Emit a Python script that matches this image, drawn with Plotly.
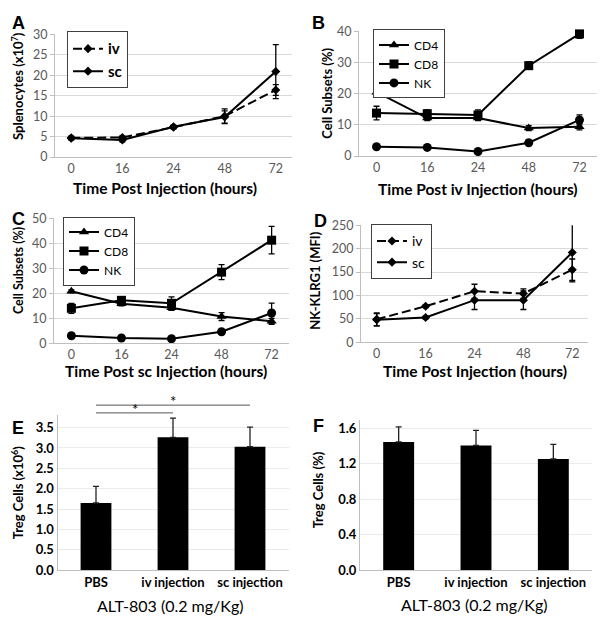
import plotly.graph_objects as go

W, H = 604, 627

# ---------------- data ----------------
time_labels = ["0", "16", "24", "48", "72"]

# A: splenocytes (x10^7)
spl_iv = [4.7, 4.8, 7.3, 10.0, 16.4]
spl_iv_err = [0.4, 0.4, 0.4, 1.8, 1.3]
spl_sc = [4.6, 4.2, 7.4, 9.8, 20.9]
spl_sc_err = [0.4, 0.5, 0.4, 1.5, 6.6]

# B: cell subsets after iv injection (%)
b_cd4 = [20.5, 12.2, 12.2, 9.0, 9.4]
b_cd4_err = [0.6, 0.8, 0.8, 0.8, 1.0]
b_cd8 = [13.8, 13.6, 13.2, 29.0, 39.2]
b_cd8_err = [2.2, 1.2, 1.6, 1.2, 1.4]
b_nk = [3.0, 2.8, 1.5, 4.3, 11.6]
b_nk_err = [0.4, 0.4, 0.4, 0.5, 1.6]

# C: cell subsets after sc injection (%)
c_cd4 = [20.8, 15.8, 14.2, 10.7, 8.8]
c_cd4_err = [0.6, 0.8, 1.0, 1.6, 1.2]
c_cd8 = [14.0, 17.2, 16.0, 28.5, 41.3]
c_cd8_err = [2.0, 1.2, 2.6, 3.0, 5.5]
c_nk = [3.0, 2.1, 1.8, 4.6, 12.1]
c_nk_err = [0.4, 0.3, 0.3, 0.6, 4.0]

# D: NK-KLRG1 (MFI)
d_iv = [49, 77, 109, 104, 155]
d_iv_err = [14, 3, 15, 10, 23]
d_sc = [48, 53, 90, 90, 192]
d_sc_err = [13, 3, 20, 20, 63]

# E / F: Treg cells
groups = ["PBS", "iv injection", "sc injection"]
treg_count = [1.65, 3.26, 3.03]
treg_count_err = [0.41, 0.47, 0.48]
treg_pct = [1.446, 1.406, 1.253]
treg_pct_err = [0.17, 0.17, 0.165]

# significance brackets on panel E: (from group, to group, level in data units)
sig_pairs = [("PBS", "iv injection", 3.86), ("PBS", "sc injection", 4.05)]

# ---------------- helpers ----------------
FONT = "Lato"
TICKGRAY = "#595959"
AXISGRAY = "#bfbfbf"
GRIDGRAY = "#d9d9d9"


def px_x(x):
    return x / W


def px_y(y):
    return 1 - y / H


def dom_x(x0, x1):
    return [px_x(x0), px_x(x1)]


def dom_y(top, bottom):
    return [px_y(bottom), px_y(top)]


def errs(arr):
    return dict(type="data", array=arr, color="black", thickness=1.3, width=3)


fig = go.Figure()


def line_trace(y, err, name, xa, ya, legend, symbol, dash="solid", size=8, group=None):
    return go.Scatter(
        x=time_labels, y=y, name=name, mode="lines+markers",
        xaxis=xa, yaxis=ya, legend=legend, legendgroup=group,
        line=dict(color="black", width=2, dash=dash),
        marker=dict(symbol=symbol, size=size, color="black"),
        error_y=errs(err), cliponaxis=False,
    )


DASH = "9px,4px"
# A
fig.add_trace(line_trace(spl_iv, spl_iv_err, "iv", "x", "y", "legend", "diamond", DASH, 7, "a1"))
fig.add_trace(line_trace(spl_sc, spl_sc_err, "sc", "x", "y", "legend", "diamond", "solid", 7, "a2"))
# B
fig.add_trace(line_trace(b_cd4, b_cd4_err, "CD4", "x2", "y2", "legend2", "triangle-up", size=9))
fig.add_trace(line_trace(b_cd8, b_cd8_err, "CD8", "x2", "y2", "legend2", "square", size=9))
fig.add_trace(line_trace(b_nk, b_nk_err, "NK", "x2", "y2", "legend2", "circle", size=9))
# C
fig.add_trace(line_trace(c_cd4, c_cd4_err, "CD4", "x3", "y3", "legend3", "triangle-up", size=9))
fig.add_trace(line_trace(c_cd8, c_cd8_err, "CD8", "x3", "y3", "legend3", "square", size=9))
fig.add_trace(line_trace(c_nk, c_nk_err, "NK", "x3", "y3", "legend3", "circle", size=9))
# D
fig.add_trace(line_trace(d_iv, d_iv_err, "iv", "x4", "y4", "legend4", "diamond", DASH, 7, "d1"))
fig.add_trace(line_trace(d_sc, d_sc_err, "sc", "x4", "y4", "legend4", "diamond", "solid", 7, "d2"))

# E / F bars
for vals, err, xa, ya in [(treg_count, treg_count_err, "x5", "y5"), (treg_pct, treg_pct_err, "x6", "y6")]:
    fig.add_trace(go.Bar(
        x=groups, y=vals, xaxis=xa, yaxis=ya, width=0.4, showlegend=False,
        marker=dict(color="black", line=dict(width=0)),
        error_y=dict(type="data", symmetric=False, array=err, arrayminus=[0] * len(err),
                     color="#222222", thickness=1.3, width=3),
    ))

# ---------------- axes ----------------
line_xaxis = dict(type="category", showline=True, linecolor=AXISGRAY, linewidth=1,
                  showgrid=False, zeroline=False, ticks="",
                  tickfont=dict(family=FONT, size=12.5, color=TICKGRAY))
line_yaxis = dict(showline=True, linecolor=AXISGRAY, linewidth=1, showgrid=True,
                  gridcolor=GRIDGRAY, gridwidth=1, zeroline=False, ticks="outside",
                  ticklen=4, tickcolor=AXISGRAY,
                  tickfont=dict(family=FONT, size=12.5, color=TICKGRAY))

boxes = {
    1: ((55, 292), (27, 153), [0, 30], 5),
    2: ((359, 597), (24, 152), [0, 40], 10),
    3: ((54, 289), (216, 344), [0, 50], 10),
    4: ((361, 588), (223, 343), [0, 250], 50),
}
lay = {}
for i, ((x0, x1), (t, b), rng, dt) in boxes.items():
    s = "" if i == 1 else str(i)
    lay["xaxis" + s] = dict(line_xaxis, domain=dom_x(x0, x1), anchor="y" + s)
    lay["yaxis" + s] = dict(line_yaxis, domain=dom_y(t, b), anchor="x" + s, range=rng, dtick=dt)

bar_xaxis = dict(type="category", showline=True, linecolor=AXISGRAY, linewidth=1,
                 showgrid=False, zeroline=False, ticks="",
                 tickfont=dict(family=FONT, size=13, color="black", weight="bold"))
bar_yaxis = dict(showline=True, linecolor=AXISGRAY, linewidth=1, showgrid=True,
                 gridcolor="#ebebeb", zeroline=False, ticks="", tickformat=".1f",
                 tickfont=dict(family=FONT, size=13, color="black", weight="bold"))
E_MAX = 3.8
lay["xaxis5"] = dict(bar_xaxis, domain=dom_x(57.5, 288.5), anchor="y5")
lay["yaxis5"] = dict(bar_yaxis, domain=dom_y(418, 577), anchor="x5", range=[0, E_MAX], dtick=0.5)
lay["xaxis6"] = dict(bar_xaxis, domain=dom_x(360, 592), anchor="y6")
lay["yaxis6"] = dict(bar_yaxis, domain=dom_y(423, 577), anchor="x6", range=[0, 1.69], dtick=0.4)

# ---------------- legends ----------------
def legend(x, y, size, bold=False, gap=0):
    return dict(x=px_x(x), y=px_y(y), xanchor="left", yanchor="top",
                bgcolor="white", bordercolor="#404040", borderwidth=1,
                font=dict(family=FONT, size=size, color="black", weight="bold" if bold else "normal"),
                itemwidth=30, tracegroupgap=gap, traceorder="normal")

lay["legend"] = legend(67, 24, 15, True, 3)
lay["legend2"] = legend(373, 22, 12)
lay["legend3"] = legend(63, 214, 12)
lay["legend4"] = legend(371, 222, 14, False, 0)

# ---------------- text ----------------
ann = []

def txt(text, x, y, size=13, angle=0, bold=True, family=FONT, color="black"):
    ann.append(dict(text=text, x=px_x(x), y=px_y(y), xref="paper", yref="paper",
                    xanchor="center", yanchor="middle", showarrow=False, textangle=angle,
                    font=dict(family=family, size=size, color=color,
                              weight="bold" if bold else "normal")))

# panel letters
for letter, x, y in [("A", 18.5, 15), ("B", 318.5, 15), ("C", 18, 217),
                     ("D", 320, 219), ("E", 18, 431), ("F", 318, 429)]:
    txt(letter, x, y, size=18, family="Liberation Sans")

XT, YT = 15.5, 13
# axis titles
txt("Time Post Injection (hours)", 165, 185, XT)
txt("Splenocytes (x10<sup>7</sup>)", 18, 80, YT, angle=-90)
txt("Time Post iv Injection (hours)", 478, 186, XT)
txt("Cell Subsets (%)", 327, 88, YT, angle=-90)
txt("Time Post sc Injection (hours)", 166, 373, XT)
txt("Cell Subsets (%)", 18, 270, 12.5, angle=-90)
txt("Time Post Injection (hours)", 475, 372, XT)
txt("NK-KLRG1 (MFI)", 315, 280, YT, angle=-90)
txt("ALT-803 (0.2 mg/Kg)", 170, 613, 16, bold=False)
txt("Treg Cells (x10<sup>6</sup>)", 17, 497, YT, angle=-90)
txt("ALT-803 (0.2 mg/Kg)", 474, 612, 16, bold=False)
txt("Treg Cells (%)", 318, 495, YT, angle=-90)

# significance brackets on E
shapes = []
cat_index = {g: i for i, g in enumerate(groups)}
for g0, g1, level in sig_pairs:
    yd = level / E_MAX
    shapes.append(dict(type="line", xref="x5", yref="y5 domain",
                       x0=cat_index[g0], x1=cat_index[g1], y0=yd, y1=yd,
                       line=dict(color="#555555", width=1)))
    ann.append(dict(text="*", x=(cat_index[g0] + cat_index[g1]) / 2, y=yd,
                    xref="x5", yref="y5 domain", xanchor="center", yanchor="bottom",
                    showarrow=False, yshift=-7, font=dict(family=FONT, size=15, color="black")))

fig.update_layout(
    width=W, height=H, margin=dict(l=0, r=0, t=0, b=0),
    paper_bgcolor="white", plot_bgcolor="white",
    showlegend=True, annotations=ann, shapes=shapes,
    font=dict(family=FONT), **lay,
)

fig.write_html("out.html", config={"displayModeBar": False},
               post_script="document.body.style.margin='0';document.body.style.overflow='hidden';")
